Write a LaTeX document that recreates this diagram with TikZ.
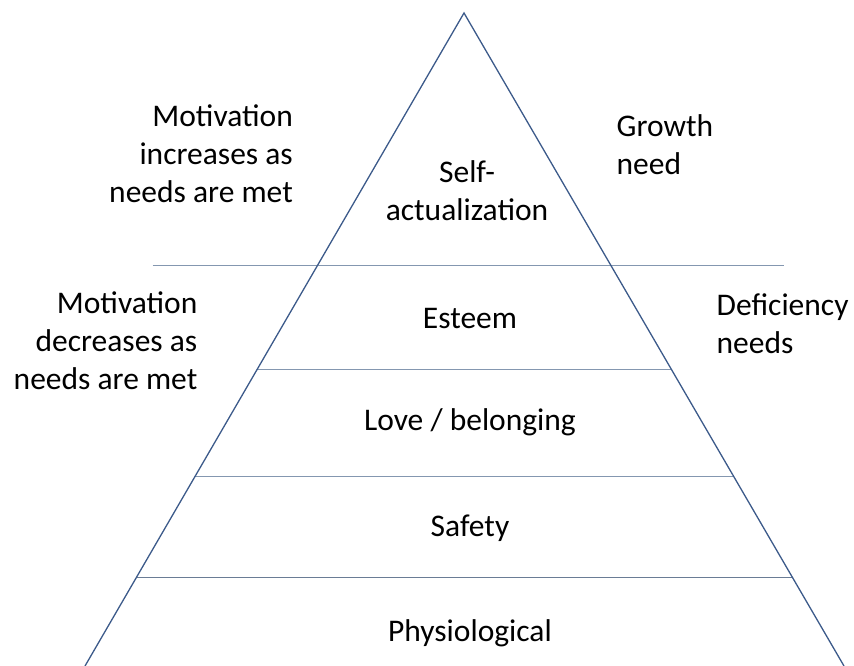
\documentclass[tikz,border=0pt]{standalone}
\usepackage{fontspec}
\setmainfont{Carlito}
\usetikzlibrary{calc}
\definecolor{edgeblue}{HTML}{3C5A8A}
\definecolor{tierline}{HTML}{8497B0}
\definecolor{tierdark}{HTML}{6A7C95}
\begin{document}
\begin{tikzpicture}[x=1pt,y=-1pt,
  side/.style={draw=edgeblue,line width=1.3pt},
  tier/.style={draw=tierline,line width=1pt},
  label/.style={inner sep=0pt,font=\fontsize{31.5}{38}\selectfont,text=black}]
\useasboundingbox (0,0) rectangle (854,666);

% pyramid corners
\coordinate (apex) at (464,13);
\coordinate (bl) at (85,666);
\coordinate (br) at (844,666);

% long divider between growth and deficiency needs
\coordinate (gl) at (152.7,265);
\coordinate (gr) at (784.3,265);
\draw[tier] (gl) -- (gr);

% tier dividers inside the pyramid
\draw[tier] ($(apex)!0.5462!(bl)$) -- ($(apex)!0.5462!(br)$);
\draw[tier] ($(apex)!0.7095!(bl)$) -- ($(apex)!0.7095!(br)$);
\draw[tier,draw=tierdark] ($(apex)!0.8642!(bl)$) -- ($(apex)!0.8642!(br)$);

% pyramid sides
\draw[side] (bl) -- (apex) -- (br);

% tier names
\node[label,anchor=base] (self) at (467,182.7)
  {\begin{tabular}[t]{@{}c@{}}Self-\\actualization\end{tabular}};
\node[label,anchor=base] (esteem) at (470,328.3) {Esteem};
\node[label,anchor=base] (love) at (470,430) {Love / belonging};
\node[label,anchor=base] (safety) at (470,536.7) {Safety};
\node[label,anchor=base] (physio) at (470,641.7) {Physiological};

% side notes
\node[label,anchor=base east] (motup) at (293,126.7)
  {\begin{tabular}[t]{@{}r@{}}Motivation\\increases as\\needs are met\end{tabular}};
\node[label,anchor=base east] (motdown) at (197.5,313.3)
  {\begin{tabular}[t]{@{}r@{}}Motivation\\decreases as\\needs are met\end{tabular}};
\node[label,anchor=base west] (growth) at (616.5,136.7)
  {\begin{tabular}[t]{@{}l@{}}Growth\\need\end{tabular}};
\node[label,anchor=base west] (deficiency) at (716.5,315)
  {\begin{tabular}[t]{@{}l@{}}Deficiency\\needs\end{tabular}};
\end{tikzpicture}
\end{document}
